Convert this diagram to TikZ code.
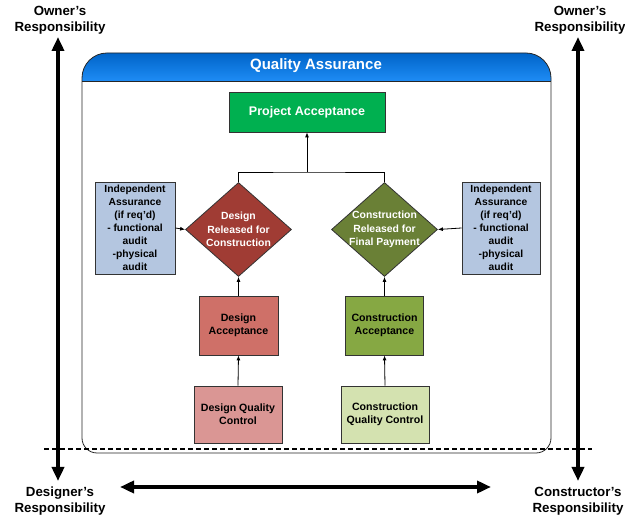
\documentclass[tikz,border=0pt]{standalone}
\usepackage{fontspec}
\setmainfont{Liberation Sans}
\usetikzlibrary{arrows.meta,shapes.geometric,calc}
\definecolor{qablueA}{RGB}{0,100,200}
\definecolor{qablueB}{RGB}{30,140,245}
\definecolor{pagreen}{RGB}{0,176,80}
\definecolor{iablue}{RGB}{180,198,224}
\definecolor{ddred}{RGB}{160,60,52}
\definecolor{cdgreen}{RGB}{106,128,54}
\definecolor{dared}{RGB}{207,112,104}
\definecolor{cagreen}{RGB}{134,168,67}
\definecolor{dqpink}{RGB}{218,150,148}
\definecolor{cqgreen}{RGB}{212,226,176}
\begin{document}
\begin{tikzpicture}[x=1pt,y=-1pt,
  font=\bfseries,
  boxs/.style={draw=black!80,line width=0.8pt,align=center,inner sep=1pt,font=\bfseries\fontsize{10.6}{13}\selectfont},
  iabox/.style={boxs,font=\bfseries\fontsize{10.3}{13}\selectfont},
  dia/.style={diamond,draw=black!80,line width=0.8pt,minimum width=106pt,minimum height=94pt,inner sep=0pt},
  diatext/.style={align=center,text=white,font=\bfseries\fontsize{10.4}{13.5}\selectfont},
  conn/.style={line width=0.8pt,-{Latex[length=5pt,width=4pt]}},
  bigarrow/.style={line width=4pt,{Triangle[length=14pt,width=12pt]}-{Triangle[length=14pt,width=12pt]}},
  resp/.style={align=center,font=\bfseries\fontsize{13.3}{16}\selectfont}]
\useasboundingbox (0,0) rectangle (625,518);
% outer container
\path[top color=qablueA,bottom color=qablueB] (82,81) -- (82,78) arc[start angle=180,end angle=270,radius=25] -- (526,53) arc[start angle=270,end angle=360,radius=25] -- (551,81) -- cycle;
\draw[line width=0.8pt,black!85] (82,81) -- (82,78) arc[start angle=180,end angle=270,radius=25] -- (526,53) arc[start angle=270,end angle=360,radius=25] -- (551,438) arc[start angle=0,end angle=90,radius=15] -- (97,453) arc[start angle=90,end angle=180,radius=15] -- cycle;
\draw[line width=0.8pt,black!85] (82,81) -- (551,81);
\node[text=white,font=\bfseries\fontsize{15}{18}\selectfont] (qa) at (316,66) {Quality Assurance};
% nodes
\node[boxs,fill=pagreen,text=white,minimum width=156pt,minimum height=40pt,font=\bfseries\fontsize{12.5}{15}\selectfont] (pa) at (307,112) {Project Acceptance};
\node[iabox,fill=iablue,minimum width=80pt,minimum height=92pt] (lia) at (135,228) {Independent\\Assurance\\(if req'd)\\- functional\\audit\\-physical\\audit};
\node[iabox,fill=iablue,minimum width=78pt,minimum height=92pt] (ria) at (501,228) {Independent\\Assurance\\(if req'd)\\- functional\\audit\\-physical\\audit};
\node[dia,fill=ddred] (dd) at (238.5,229.5) {};
\node[diatext] (ddt) at (dd.center) {Design\\Released for\\Construction};
\node[dia,fill=cdgreen] (cd) at (384.5,229.5) {};
\node[diatext] (cdt) at (cd.center) {Construction\\Released for\\Final Payment};
\node[boxs,fill=dared,minimum width=79pt,minimum height=59pt] (da) at (238.5,325.5) {Design\\Acceptance};
\node[boxs,fill=cagreen,minimum width=78pt,minimum height=59pt] (ca) at (384.5,325.5) {Construction\\Acceptance};
\node[boxs,fill=dqpink,minimum width=88pt,minimum height=57pt] (dq) at (238,414.5) {Design Quality\\Control};
\node[boxs,fill=cqgreen,minimum width=88pt,minimum height=57pt] (cq) at (385,414.5) {Construction\\Quality Control};
% connectors
\coordinate (join) at (307,172);
\draw[line width=0.8pt] (dd.north) |- (join) -| (cd.north);
\draw[conn] (join) -- (pa.south);
\draw[conn] (lia.east) -- (dd.west);
\draw[conn] (ria.west) -- (cd.east);
\draw[conn] (da.north) -- (dd.south);
\draw[conn] (ca.north) -- (cd.south);
\draw[conn] (dq.north) -- (da.south);
\draw[conn] (cq.north) -- (ca.south);
% dashed line
\coordinate (dl) at (44,449);
\coordinate (dr) at (592,449);
\draw[line width=2pt,dash pattern=on 5pt off 3pt] (dl) -- (dr);
% responsibility labels
\node[resp] (owl) at (60,20) {Owner's\\Responsibility};
\node[resp] (owr) at (580,20) {Owner's\\Responsibility};
\node[resp] (dsl) at (60,501) {Designer's\\Responsibility};
\node[resp] (csr) at (578,501) {Constructor's\\Responsibility};
\coordinate (lt) at (58,37);
\coordinate (lb) at (58,481);
\coordinate (rt) at (578,37);
\coordinate (rb) at (578,481);
\coordinate (hl) at (120,487);
\coordinate (hr) at (491,487);
\draw[bigarrow] (lt) -- (lb);
\draw[bigarrow] (rt) -- (rb);
\draw[bigarrow] (hl) -- (hr);
\end{tikzpicture}
\end{document}
